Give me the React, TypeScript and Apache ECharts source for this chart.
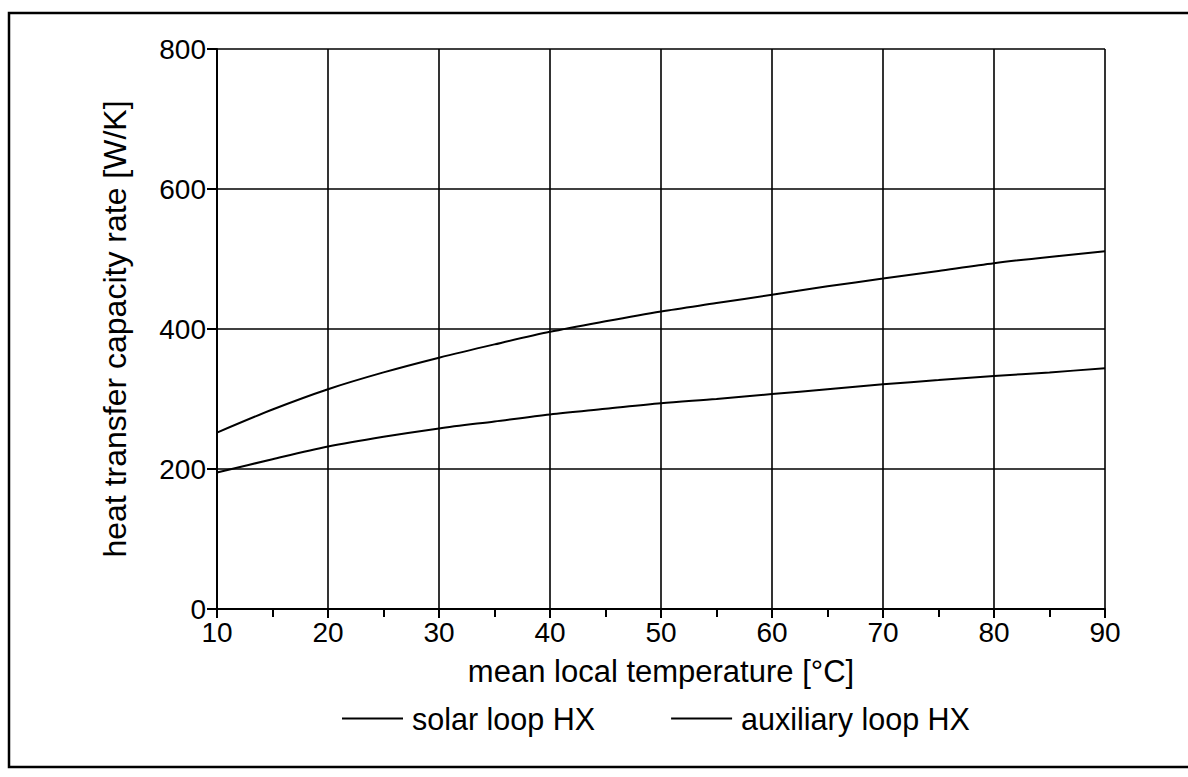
import React, { useEffect, useRef } from "react";
import * as echarts from "echarts";

const temps = [10, 15, 20, 25, 30, 35, 40, 45, 50, 55, 60, 65, 70, 75, 80, 85, 90];
const solarLoop = [252, 285, 314, 338, 359, 378, 396, 411, 425, 437, 449, 461, 472, 483, 494, 503, 511];
const auxLoop = [195, 214, 232, 246, 258, 268, 278, 286, 294, 300, 307, 314, 321, 327, 333, 338, 344];
const seriesNames = ["solar loop HX", "auxiliary loop HX"];
const xName = "mean local temperature [°C]";
const yName = "heat transfer capacity rate [W/K]";

const FONT = '"Liberation Sans", Arial, Helvetica, sans-serif';

export default function App() {
  const ref = useRef<HTMLDivElement>(null);
  useEffect(() => {
    if (!ref.current) return;
    const chart = echarts.init(ref.current, null, { renderer: "svg" });
    const mk = (vals: number[]) => temps.map((t, i) => [t, vals[i]]);
    chart.setOption({
      animation: false,
      backgroundColor: "#ffffff",
      textStyle: { fontFamily: FONT, color: "#000" },
      grid: { left: 217, right: 83, top: 49, bottom: 168, containLabel: false },
      legend: {
        left: 337,
        top: 698,
        icon: "rect",
        itemWidth: 61,
        itemHeight: 2,
        itemGap: 76,
        textStyle: { fontFamily: FONT, fontSize: 30.5, color: "#000", padding: [0, 0, 0, 4] },
        data: seriesNames,
      },
      xAxis: {
        type: "value",
        min: 10,
        max: 90,
        interval: 10,
        name: xName,
        nameLocation: "middle",
        nameGap: 47,
        nameTextStyle: { fontFamily: FONT, fontSize: 31, color: "#000" },
        axisLine: { show: true, lineStyle: { color: "#000", width: 2 } },
        axisTick: { show: true, inside: false, length: 9, lineStyle: { color: "#000", width: 2 } },
        minorTick: { show: true, splitNumber: 2, length: 8, lineStyle: { color: "#000", width: 2 } },
        axisLabel: { fontFamily: FONT, fontSize: 28, color: "#000", margin: 9 },
        splitLine: { show: true, lineStyle: { color: "#000", width: 1.6 } },
      },
      yAxis: {
        type: "value",
        min: 0,
        max: 800,
        interval: 200,
        name: yName,
        nameLocation: "middle",
        nameGap: 86,
        nameTextStyle: { fontFamily: FONT, fontSize: 32, color: "#000" },
        axisLine: { show: true, lineStyle: { color: "#000", width: 2 } },
        axisTick: { show: true, inside: false, length: 10, lineStyle: { color: "#000", width: 2 } },
        axisLabel: { fontFamily: FONT, fontSize: 28, color: "#000", margin: 11 },
        splitLine: { show: true, lineStyle: { color: "#000", width: 1.6 } },
      },
      series: [
        {
          name: seriesNames[0],
          type: "line",
          data: mk(solarLoop),
          smooth: 0.3,
          symbol: "none",
          lineStyle: { color: "#000", width: 2 },
          itemStyle: { color: "#000" },
        },
        {
          name: seriesNames[1],
          type: "line",
          data: mk(auxLoop),
          smooth: 0.3,
          symbol: "none",
          lineStyle: { color: "#000", width: 2 },
          itemStyle: { color: "#000" },
        },
      ],
      graphic: [
        {
          type: "polyline",
          silent: true,
          shape: { points: [[1188, 13], [9, 13], [9, 767], [1188, 767]] },
          style: { stroke: "#000", lineWidth: 2.5, fill: "none" },
        },
      ],
    });
    return () => chart.dispose();
  }, []);
  return (
    <div
      ref={ref}
      style={{ position: "fixed", left: 0, top: 0, width: 1188, height: 777, background: "#fff" }}
    />
  );
}
